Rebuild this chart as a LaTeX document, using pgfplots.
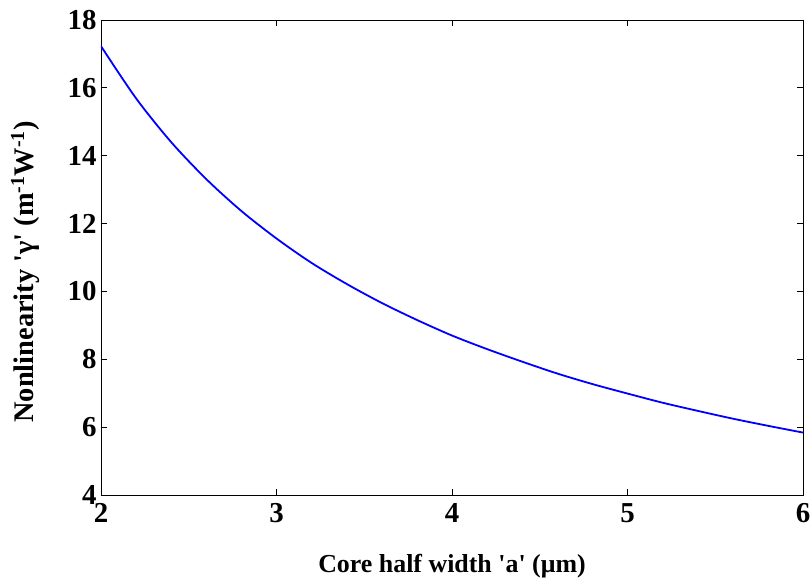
\documentclass[border=0pt]{standalone}
\usepackage{fontspec}
\setmainfont{Liberation Serif}[Ligatures=TeXOff]
\usepackage{pgfplots}
\pgfplotsset{compat=1.18}

\begin{document}
\begin{tikzpicture}
\begin{axis}[
  scale only axis,
  width=702bp, height=475bp,
  xmin=2, xmax=6, ymin=4, ymax=18,
  xtick={2,3,4,5,6}, ytick={4,6,...,18},
  tick align=inside,
  major tick length=6bp,
  tick style={black, line width=0.8bp},
  axis line style={black, line width=0.8bp},
  /pgf/number format/assume math mode=true,
  every tick label/.append style={font=\fontsize{29}{34}\selectfont\bfseries},
  xticklabel style={yshift=-5bp},
  yticklabel style={xshift=-1bp},
  xlabel={Core half width 'a' (μm)},
  ylabel={Nonlinearity 'γ' (m\textsuperscript{-1}W\textsuperscript{-1})},
  xlabel style={font=\fontsize{26}{30}\selectfont\bfseries,
    at={(axis description cs:0.5,-0.1495)}, anchor=center},
  ylabel style={font=\fontsize{28.5}{33}\selectfont\bfseries,
    at={(axis description cs:-0.108,0.4695)}, anchor=center},
]
\addplot[color={rgb,255:red,0;green,0;blue,255}, line width=1.8bp, smooth] coordinates {
  (2.0,17.23) (2.2,15.69) (2.4,14.40) (2.6,13.31) (2.8,12.37)
  (3.0,11.56) (3.2,10.84) (3.4,10.22) (3.6,9.66) (3.8,9.16)
  (4.0,8.70) (4.2,8.30) (4.4,7.93) (4.6,7.58) (4.8,7.27)
  (5.0,6.99) (5.2,6.72) (5.4,6.48) (5.6,6.25) (5.8,6.04) (6.0,5.84)
};
\end{axis}
\pgfresetboundingbox
\useasboundingbox (current axis.south west) ++(-101bp,-86bp) rectangle ++(810bp,581bp);
\end{tikzpicture}
\end{document}
